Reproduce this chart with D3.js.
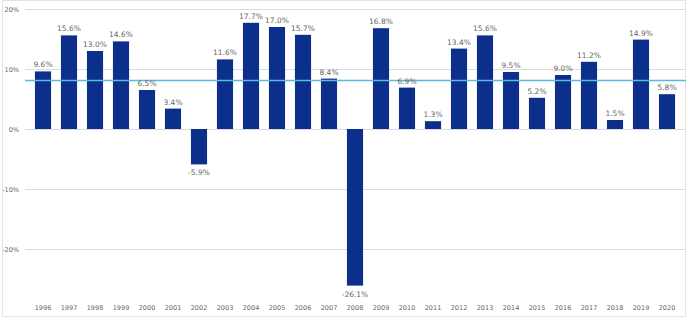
<!DOCTYPE html>
<html>
<head>
<meta charset="utf-8">
<script src="https://cdn.jsdelivr.net/npm/d3@7"></script>
<style>
  body { margin: 0; background: #fff; }
  text { font-family: "DejaVu Sans", sans-serif; fill: #666; }
</style>
</head>
<body>
<div id="chart"></div>
<script>
var width = 689;
var height = 326;

var years = ["1996","1997","1998","1999","2000","2001","2002","2003","2004","2005","2006","2007","2008",
             "2009","2010","2011","2012","2013","2014","2015","2016","2017","2018","2019","2020"];
var returns = [9.6, 15.6, 13.0, 14.6, 6.5, 3.4, -5.9, 11.6, 17.7, 17.0, 15.7, 8.4, -26.1,
               16.8, 6.9, 1.3, 13.4, 15.6, 9.5, 5.2, 9.0, 11.2, 1.5, 14.9, 5.8];
var average = 8.1;
var yTicks = [-20, -10, 0, 10, 20];

var svg = d3.select("#chart").append("svg")
  .attr("width", width)
  .attr("height", height);

// frame
svg.append("rect")
  .attr("x", 2.5).attr("y", 0.5)
  .attr("width", 683).attr("height", 316)
  .attr("fill", "none")
  .attr("stroke", "#e4e4e4");

var x = d3.scaleBand().domain(years).range([30, 680]).paddingInner(0.38).paddingOuter(0.19);
var y = d3.scaleLinear().domain([-20, 20]).range([249, 9]);

// gridlines + labels
var grid = svg.append("g");
grid.selectAll("line").data(yTicks).enter().append("line")
  .attr("x1", 25).attr("x2", 685)
  .attr("y1", function(d) { return Math.round(y(d)) + 0.5; })
  .attr("y2", function(d) { return Math.round(y(d)) + 0.5; })
  .attr("stroke", "#dcdcdc");
grid.selectAll("text").data(yTicks).enter().append("text")
  .attr("x", 19)
  .attr("y", function(d) { return y(d) + 2.5; })
  .attr("text-anchor", "end")
  .attr("font-size", 6.5)
  .text(function(d) { return d + "%"; });

// bars
svg.selectAll("rect.bar").data(returns).enter().append("rect")
  .attr("class", "bar")
  .attr("x", function(d, i) { return x(years[i]); })
  .attr("width", x.bandwidth())
  .attr("y", function(d) { return d >= 0 ? y(d) : y(0); })
  .attr("height", function(d) { return Math.abs(y(d) - y(0)); })
  .attr("fill", "#0b2f8a");

// average line
svg.append("line")
  .attr("x1", 25).attr("x2", 686)
  .attr("y1", y(average)).attr("y2", y(average))
  .attr("stroke", "#5ab9de")
  .attr("stroke-width", 1.5);

// value labels
svg.selectAll("text.val").data(returns).enter().append("text")
  .attr("class", "val")
  .attr("x", function(d, i) { return x(years[i]) + x.bandwidth() / 2; })
  .attr("y", function(d) { return d >= 0 ? y(d) - 4 : y(d) + 11; })
  .attr("text-anchor", "middle")
  .attr("font-size", 7.5)
  .text(function(d) { return d.toFixed(1) + "%"; });

// year labels
svg.selectAll("text.yr").data(years).enter().append("text")
  .attr("class", "yr")
  .attr("x", function(d) { return x(d) + x.bandwidth() / 2; })
  .attr("y", 310)
  .attr("text-anchor", "middle")
  .attr("font-size", 6.5)
  .text(function(d) { return d; });
</script>
</body>
</html>
